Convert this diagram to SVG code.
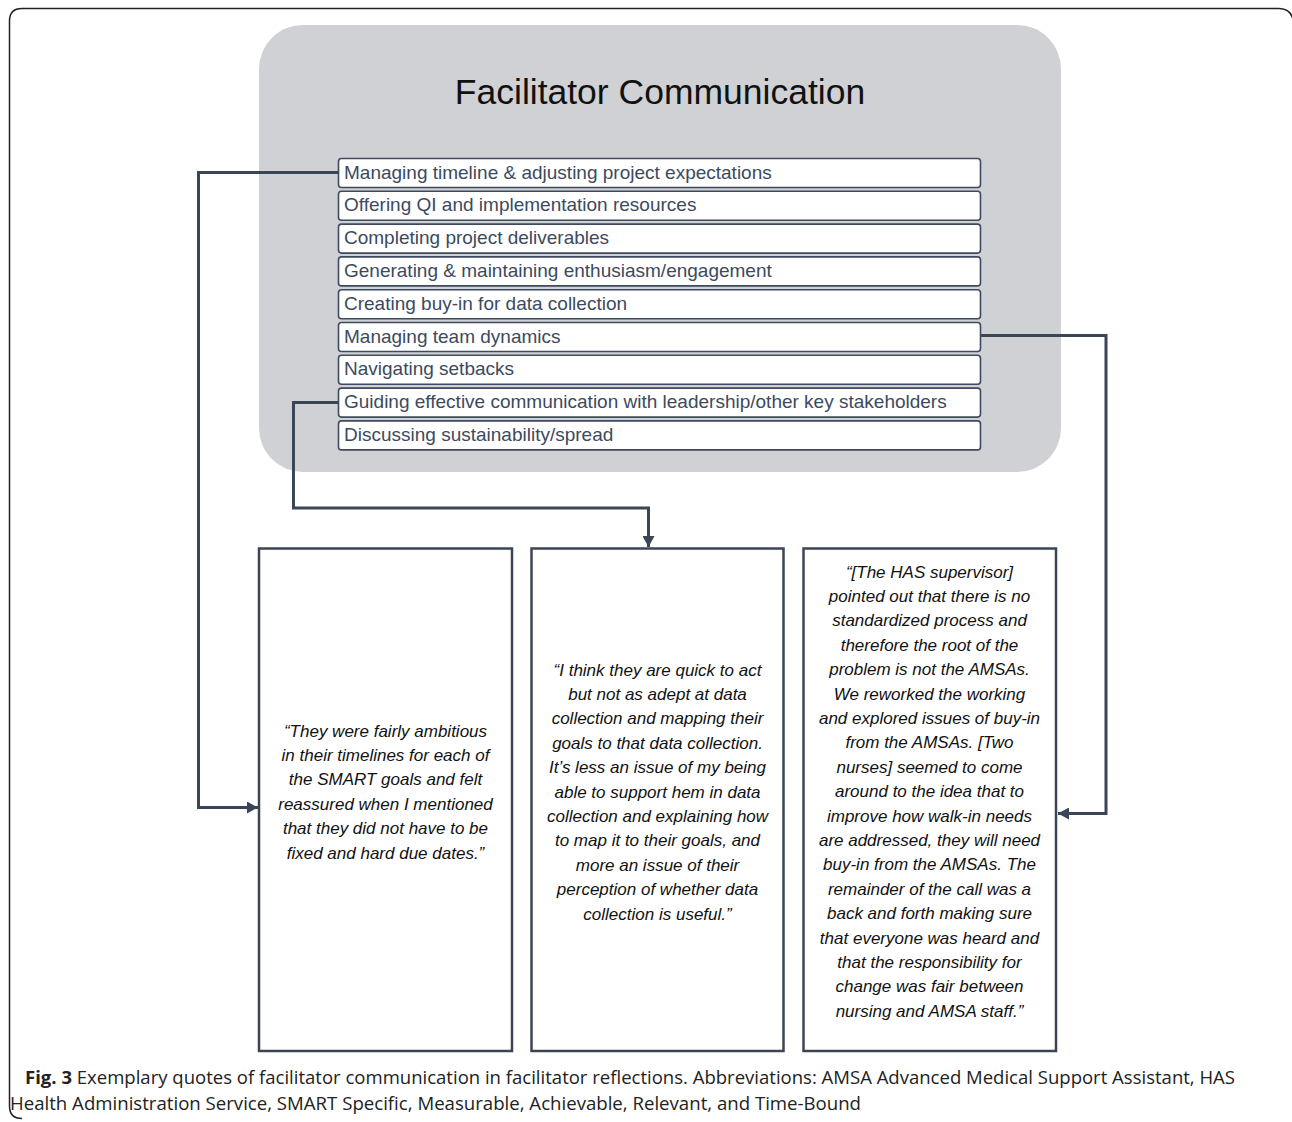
<svg xmlns="http://www.w3.org/2000/svg" width="1292" height="1122" viewBox="0 0 1292 1122">
<defs>
<style>
.frame{fill:none;stroke:#222;stroke-width:1.5}
.panel{fill:#D0D1D5}
.item rect{fill:#fff;stroke:#3E4A5E;stroke-width:1.6}
.item text{font-family:"Liberation Sans",Arial,sans-serif;font-size:19px;fill:#3C4A5E}
.quote rect{fill:#fff;stroke:#3A4556;stroke-width:2.5}
.quote text{font-family:"Liberation Sans",Arial,sans-serif;font-size:17px;font-style:italic;fill:#111;text-anchor:middle}
.conn{fill:none;stroke:#3A4556;stroke-width:3}
.title{font-family:"Liberation Sans",Arial,sans-serif;font-size:35.5px;fill:#111;text-anchor:middle}
.cap{font-family:"Open Sans","Liberation Sans",sans-serif;font-size:18px;fill:#222}
</style>
<marker id="arr" markerUnits="userSpaceOnUse" markerWidth="12" markerHeight="12" refX="11" refY="6" orient="auto">
<path d="M0,0 L11,6 L0,12 z" fill="#3A4556"/>
</marker>
</defs>
<rect width="1292" height="1122" fill="#fff"/>
<path class="frame" d="M22 1118.5 Q9.5 1118.5 9.5 1106 L9.5 21 Q9.5 8.5 22 8.5 L1279 8.5 Q1290 8.5 1293 19"/>
<g id="panel">
<rect class="panel" x="259" y="25" width="802" height="447" rx="44" ry="44"/>
<text class="title" x="660" y="103.5">Facilitator Communication</text>
</g>
<g id="item1" class="item"><rect x="338.5" y="158.5" width="642" height="29" rx="3"/><text x="344" y="178.5">Managing timeline &amp; adjusting project expectations</text></g>
<g id="item2" class="item"><rect x="338.5" y="191.3" width="642" height="29" rx="3"/><text x="344" y="211.3">Offering QI and implementation resources</text></g>
<g id="item3" class="item"><rect x="338.5" y="224.1" width="642" height="29" rx="3"/><text x="344" y="244.1">Completing project deliverables</text></g>
<g id="item4" class="item"><rect x="338.5" y="256.9" width="642" height="29" rx="3"/><text x="344" y="276.9">Generating &amp; maintaining enthusiasm/engagement</text></g>
<g id="item5" class="item"><rect x="338.5" y="289.7" width="642" height="29" rx="3"/><text x="344" y="309.7">Creating buy-in for data collection</text></g>
<g id="item6" class="item"><rect x="338.5" y="322.5" width="642" height="29" rx="3"/><text x="344" y="342.5">Managing team dynamics</text></g>
<g id="item7" class="item"><rect x="338.5" y="355.3" width="642" height="29" rx="3"/><text x="344" y="375.3">Navigating setbacks</text></g>
<g id="item8" class="item"><rect x="338.5" y="388.1" width="642" height="29" rx="3"/><text x="344" y="408.1">Guiding effective communication with leadership/other key stakeholders</text></g>
<g id="item9" class="item"><rect x="338.5" y="420.9" width="642" height="29" rx="3"/><text x="344" y="440.9">Discussing sustainability/spread</text></g>
<g id="connectors">
<path class="conn" d="M338 172.5 H198.5 V807.5 H258" marker-end="url(#arr)"/>
<path class="conn" d="M338 402.5 H293.5 V508 H648.5 V547" marker-end="url(#arr)"/>
<path class="conn" d="M981 335.5 H1106 V813.5 H1058" marker-end="url(#arr)"/>
</g>
<g id="quote1" class="quote">
<rect x="259" y="548.5" width="253" height="502.5"/>
<text x="385.5" y="736.5">“They were fairly ambitious</text>
<text x="385.5" y="760.9">in their timelines for each of</text>
<text x="385.5" y="785.3">the SMART goals and felt</text>
<text x="385.5" y="809.7">reassured when I mentioned</text>
<text x="385.5" y="834.1">that they did not have to be</text>
<text x="385.5" y="858.5">fixed and hard due dates.”</text>
</g>
<g id="quote2" class="quote">
<rect x="531.5" y="548.5" width="252" height="502.5"/>
<text x="657.5" y="675.5">“I think they are quick to act</text>
<text x="657.5" y="699.9">but not as adept at data</text>
<text x="657.5" y="724.3">collection and mapping their</text>
<text x="657.5" y="748.7">goals to that data collection.</text>
<text x="657.5" y="773.1">It’s less an issue of my being</text>
<text x="657.5" y="797.5">able to support hem in data</text>
<text x="657.5" y="821.9">collection and explaining how</text>
<text x="657.5" y="846.3">to map it to their goals, and</text>
<text x="657.5" y="870.7">more an issue of their</text>
<text x="657.5" y="895.1">perception of whether data</text>
<text x="657.5" y="919.5">collection is useful.”</text>
</g>
<g id="quote3" class="quote">
<rect x="803.5" y="548.5" width="252.5" height="502.5"/>
<text x="929.5" y="577.5">“[The HAS supervisor]</text>
<text x="929.5" y="601.9">pointed out that there is no</text>
<text x="929.5" y="626.3">standardized process and</text>
<text x="929.5" y="650.7">therefore the root of the</text>
<text x="929.5" y="675.1">problem is not the AMSAs.</text>
<text x="929.5" y="699.5">We reworked the working</text>
<text x="929.5" y="723.9">and explored issues of buy-in</text>
<text x="929.5" y="748.3">from the AMSAs. [Two</text>
<text x="929.5" y="772.7">nurses] seemed to come</text>
<text x="929.5" y="797.1">around to the idea that to</text>
<text x="929.5" y="821.5">improve how walk-in needs</text>
<text x="929.5" y="845.9">are addressed, they will need</text>
<text x="929.5" y="870.3">buy-in from the AMSAs. The</text>
<text x="929.5" y="894.7">remainder of the call was a</text>
<text x="929.5" y="919.1">back and forth making sure</text>
<text x="929.5" y="943.5">that everyone was heard and</text>
<text x="929.5" y="967.9">that the responsibility for</text>
<text x="929.5" y="992.3">change was fair between</text>
<text x="929.5" y="1016.7">nursing and AMSA staff.”</text>
</g>
<g id="caption">
<text class="cap" x="25" y="1084" textLength="1210" lengthAdjust="spacingAndGlyphs"><tspan font-weight="bold">Fig. 3</tspan> Exemplary quotes of facilitator communication in facilitator reflections. Abbreviations: AMSA Advanced Medical Support Assistant, HAS</text>
<text class="cap" x="10" y="1110" textLength="851" lengthAdjust="spacingAndGlyphs">Health Administration Service, SMART Specific, Measurable, Achievable, Relevant, and Time-Bound</text>
</g>
</svg>
